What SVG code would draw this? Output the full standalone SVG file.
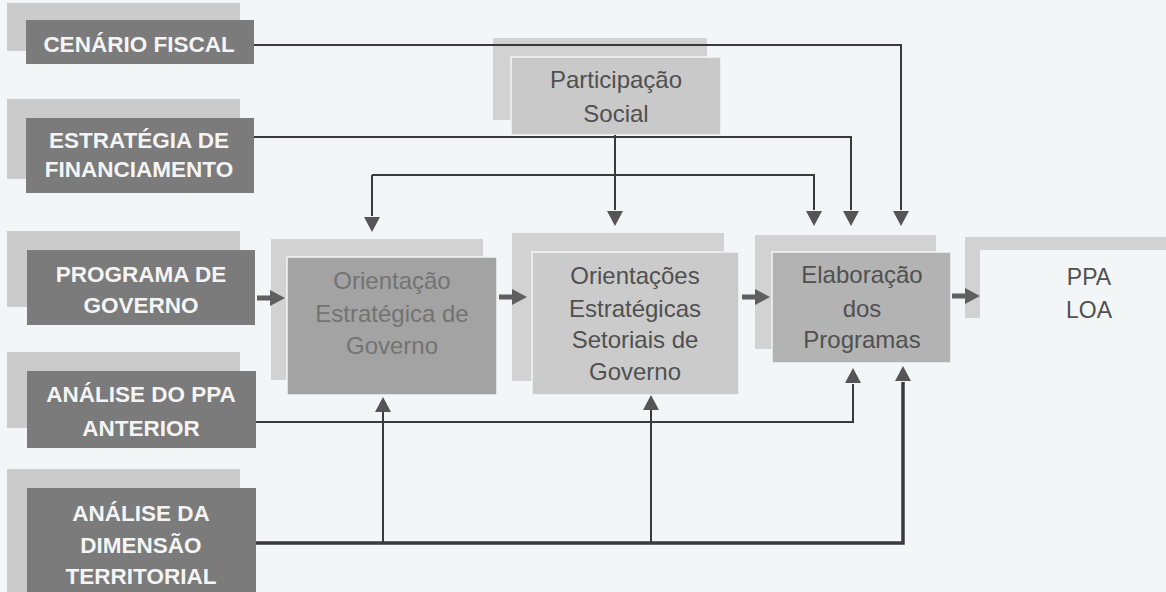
<svg xmlns="http://www.w3.org/2000/svg" width="1166" height="592" viewBox="0 0 1166 592">
<defs>
<style>
.bg{fill:#f3f6f6}
.ls{fill:#cbcbcb}
.lb{fill:#7b7b7b}
.lt{font-family:"Liberation Sans",Arial,sans-serif;font-weight:bold;font-size:22.5px;fill:#f4f4f4;text-anchor:middle}
.ms{fill:#d2d2d2}
.mt{font-family:"Liberation Sans",Arial,sans-serif;font-size:24px;fill:#505050;text-anchor:middle}
.ln{fill:none;stroke:#3a3a3a;stroke-width:2}
.thick{stroke-width:3.5}
.ah{fill:#555}
.blk{fill:#5f5f5f}
</style>
<path id="barrow" d="M0,-2.5 H13 V-8 L28,0 L13,8 V2.5 H0 Z"/>
</defs>
<rect class="bg" x="0" y="0" width="1166" height="592"/>

<g id="cenario-fiscal">
<rect class="ls" x="7" y="3" width="233" height="48"/>
<rect class="lb" x="26" y="20" width="228" height="44"/>
<text class="lt" x="139" y="52">CENÁRIO FISCAL</text>
</g>
<g id="estrategia-financiamento">
<rect class="ls" x="7" y="99" width="233" height="80"/>
<rect class="lb" x="26" y="118" width="228" height="75"/>
<text class="lt" x="139" y="148">ESTRATÉGIA DE</text>
<text class="lt" x="139" y="177">FINANCIAMENTO</text>
</g>
<g id="programa-governo">
<rect class="ls" x="7" y="231" width="233" height="76"/>
<rect class="lb" x="27" y="250" width="228" height="75"/>
<text class="lt" x="141" y="282">PROGRAMA DE</text>
<text class="lt" x="141" y="313">GOVERNO</text>
</g>
<g id="analise-ppa">
<rect class="ls" x="7" y="352" width="233" height="76"/>
<rect class="lb" x="27" y="371" width="229" height="77"/>
<text class="lt" x="141" y="402">ANÁLISE DO PPA</text>
<text class="lt" x="141" y="436">ANTERIOR</text>
</g>
<g id="analise-territorial">
<rect class="ls" x="7" y="469" width="233" height="130"/>
<rect class="lb" x="27" y="488" width="229" height="110"/>
<text class="lt" x="141" y="521">ANÁLISE DA</text>
<text class="lt" x="141" y="553">DIMENSÃO</text>
<text class="lt" x="141" y="584">TERRITORIAL</text>
</g>

<g id="participacao-social">
<rect class="ms" x="493" y="38" width="214" height="82"/>
<rect x="511" y="57" width="210" height="78" fill="#c9c9c9" stroke="#f3f6f6" stroke-width="1.5"/>
<text class="mt" x="616" y="88">Participação</text>
<text class="mt" x="616" y="122">Social</text>
</g>
<g id="orientacao-estrategica">
<rect class="ms" x="271" y="239" width="212" height="141"/>
<rect x="287" y="257" width="210" height="138" fill="#a3a3a3" stroke="#f3f6f6" stroke-width="1.5"/>
<text class="mt" x="392" y="289" style="fill:#737373">Orientação</text>
<text class="mt" x="392" y="322" style="fill:#737373">Estratégica de</text>
<text class="mt" x="392" y="354" style="fill:#737373">Governo</text>
</g>
<g id="orientacoes-setoriais">
<rect class="ms" x="512" y="233" width="212" height="148"/>
<rect x="532" y="252" width="207" height="143" fill="#cbcbcb" stroke="#f3f6f6" stroke-width="1.5"/>
<text class="mt" x="635" y="284">Orientações</text>
<text class="mt" x="635" y="317">Estratégicas</text>
<text class="mt" x="635" y="348">Setoriais de</text>
<text class="mt" x="635" y="380">Governo</text>
</g>
<g id="elaboracao-programas">
<rect class="ms" x="755" y="235" width="181" height="114"/>
<rect x="772" y="252" width="179" height="111" fill="#b3b3b3" stroke="#f3f6f6" stroke-width="1.5"/>
<text class="mt" x="862" y="283">Elaboração</text>
<text class="mt" x="862" y="317">dos</text>
<text class="mt" x="862" y="348">Programas</text>
</g>
<g id="ppa-loa">
<rect class="ms" x="965" y="237" width="210" height="81"/>
<rect class="bg" x="980" y="250" width="200" height="90"/>
<text class="mt" x="1089" y="285" style="font-size:23px">PPA</text>
<text class="mt" x="1089" y="318" style="font-size:23px">LOA</text>
</g>

<g id="connectors">
<path class="ln" d="M254,45 H901 V210"/>
<path class="ah" d="M893,211 L909,211 L901,226 Z"/>
<path class="ln" d="M254,137 H851 V210"/>
<path class="ah" d="M843,211 L859,211 L851,226 Z"/>
<path class="ln" d="M615,135 V210"/>
<path class="ah" d="M607,211 L623,211 L615,226 Z"/>
<path class="ln" d="M372,175 H814 V210"/>
<path class="ah" d="M806,211 L822,211 L814,226 Z"/>
<path class="ln" d="M372,175 V216"/>
<path class="ah" d="M364,217 L380,217 L372,232 Z"/>
<path class="ln" d="M256,422 H853 V384"/>
<path class="ah" d="M845,383 L861,383 L853,368 Z"/>
<path class="ln thick" d="M256,543 H903 V382"/>
<path class="ah" d="M895,381 L911,381 L903,366 Z"/>
<path class="ln" d="M383,543 V412"/>
<path class="ah" d="M375,412 L391,412 L383,397 Z"/>
<path class="ln" d="M651,543 V410"/>
<path class="ah" d="M643,410 L659,410 L651,395 Z"/>
<use href="#barrow" class="blk" x="257" y="298"/>
<use href="#barrow" class="blk" x="499" y="297"/>
<use href="#barrow" class="blk" x="742" y="297"/>
<use href="#barrow" class="blk" x="952" y="296"/>
</g>
</svg>
